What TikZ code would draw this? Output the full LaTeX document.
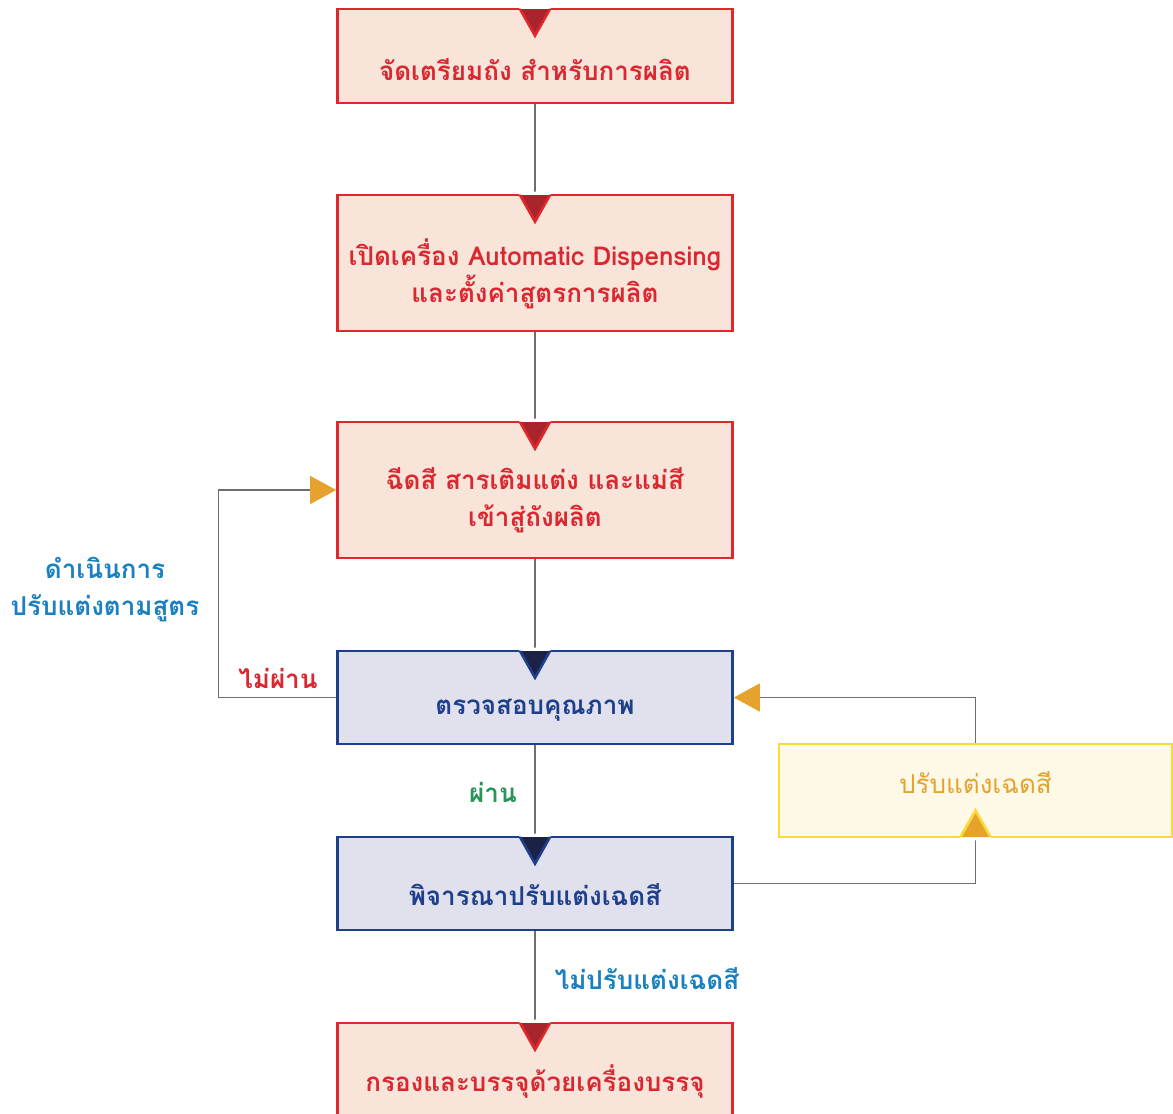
\documentclass[tikz,border=0pt]{standalone}
\usepackage{fontspec}
\newfontfamily\thaifont[Script=Thai]{Loma}
\usepackage{tikz}
\usetikzlibrary{arrows.meta, positioning, calc}
\definecolor{stepred}{RGB}{224, 40, 44}
\definecolor{stepredfill}{RGB}{249, 228, 218}
\definecolor{stepreddark}{RGB}{168, 37, 45}
\definecolor{stepredtext}{RGB}{218, 40, 48}
\definecolor{checkblue}{RGB}{30, 63, 140}
\definecolor{checkbluefill}{RGB}{224, 225, 236}
\definecolor{checkbluedark}{RGB}{28, 33, 70}
\definecolor{tuneyellow}{RGB}{250, 218, 58}
\definecolor{tuneyellowfill}{RGB}{254, 248, 230}
\definecolor{tuneorange}{RGB}{229, 163, 46}
\definecolor{notecyan}{RGB}{26, 128, 192}
\definecolor{passgreen}{RGB}{40, 150, 88}
\definecolor{linkgray}{RGB}{110, 110, 110}

% notch on a box edge: #1 anchor, #2 direction (1 down, -1 up), #3 fill, #4 edge colour
\newcommand{\notch}[4]{%
  \fill[white] ([xshift=-8.5pt, yshift={#2*1pt}]#1) -- ([xshift=8.5pt, yshift={#2*1pt}]#1)
    -- ([yshift={-#2*14pt}]#1) -- cycle;
  \filldraw[fill=#3, draw=#4, line width=1.3pt, line join=miter]
    ([xshift=-7.5pt, yshift={-#2*0.65pt}]#1) -- ([yshift={-#2*14pt}]#1)
    -- ([xshift=7.5pt, yshift={-#2*0.65pt}]#1);
}

\begin{document}
\begin{tikzpicture}[x=0.5pt, y=-0.5pt,
    redbox/.style={rectangle, draw=stepred, fill=stepredfill, line width=1.3pt,
                   minimum width=197.5pt},
    bluebox/.style={rectangle, draw=checkblue, fill=checkbluefill, line width=1.3pt,
                    minimum width=197.5pt, minimum height=46.5pt},
    yellowbox/.style={rectangle, draw=tuneyellow, fill=tuneyellowfill, line width=1.3pt,
                      minimum width=196.5pt, minimum height=46.5pt},
    steptext/.style={font=\thaifont\bfseries\fontsize{13}{18.5}\selectfont, align=center, inner sep=0pt},
    link/.style={draw=linkgray, line width=0.6pt},
    loop/.style={link, -{Triangle[length=13pt, width=14pt, color=tuneorange]}}
]
\useasboundingbox (0,0) rectangle (1173,1114);
\clip (0,0) rectangle (1173,1114);

% main column of steps
\node[redbox, minimum height=47pt] (prep) at (535,56) {};
\node[steptext, text=stepredtext] at (535,70) {จัดเตรียมถัง สำหรับการผลิต};

\node[redbox, minimum height=68pt] (setup) at (535,263) {};
\node[steptext, text=stepredtext] at (535,273.5) {เปิดเครื่อง Automatic Dispensing\\และตั้งค่าสูตรการผลิต};

\node[redbox, minimum height=68pt] (mix) at (535,490) {};
\node[steptext, text=stepredtext] at (535,500) {ฉีดสี สารเติมแต่ง และแม่สี\\เข้าสู่ถังผลิต};

\node[bluebox] (check) at (535,697.5) {};
\node[steptext, text=checkblue] at (535,710) {ตรวจสอบคุณภาพ};

\node[bluebox] (shade) at (535,883.5) {};
\node[steptext, text=checkblue] at (535,895) {พิจารณาปรับแต่งเฉดสี};

\node[redbox, minimum height=47pt] (pack) at (535,1070) {};
\node[steptext, text=stepredtext] at (535,1082) {กรองและบรรจุด้วยเครื่องบรรจุ};

% side step
\node[yellowbox] (adjust) at (975.5,790.5) {};
\node[steptext, text=tuneorange, font=\thaifont\fontsize{13}{18.5}\selectfont] at (975.5,783) {ปรับแต่งเฉดสี};

% straight links
\draw[link] (prep.south) -- (setup.north);
\draw[link] (setup.south) -- (mix.north);
\draw[link] (mix.south) -- (check.north);
\draw[link] (check.south) -- (shade.north);
\draw[link] (shade.south) -- (pack.north);

% loops back
\draw[loop] (check.west) -- ++(-118,0) |- (mix.west);
\draw[link] (shade.east) -| (adjust.south);
\draw[loop] (adjust.north) |- (check.east);

% notches
\notch{prep.north}{1}{stepreddark}{stepred}
\notch{setup.north}{1}{stepreddark}{stepred}
\notch{mix.north}{1}{stepreddark}{stepred}
\notch{check.north}{1}{checkbluedark}{checkblue}
\notch{shade.north}{1}{checkbluedark}{checkblue}
\notch{pack.north}{1}{stepreddark}{stepred}
\notch{adjust.south}{-1}{tuneorange}{tuneyellow}

% link labels
\node[steptext, text=notecyan] at (105,590) {ดำเนินการ\\ปรับแต่งตามสูตร};
\node[steptext, text=stepredtext] at (278,678) {ไม่ผ่าน};
\node[steptext, text=passgreen] at (493,792) {ผ่าน};
\node[steptext, text=notecyan] at (647,979) {ไม่ปรับแต่งเฉดสี};

\end{tikzpicture}
\end{document}
